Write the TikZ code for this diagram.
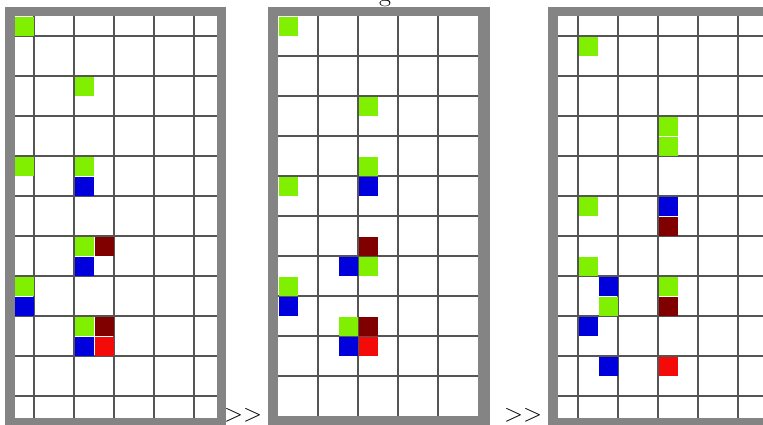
\documentclass[tikz,border=0pt]{standalone}
\begin{document}
\begin{tikzpicture}[x=1pt,y=-1pt]
\definecolor{framegray}{RGB}{132,132,132}
\definecolor{gridgray}{RGB}{85,85,85}
\definecolor{cgreen}{RGB}{128,240,0}
\definecolor{cblue}{RGB}{0,0,220}
\definecolor{cmaroon}{RGB}{128,0,0}
\definecolor{cred}{RGB}{245,10,10}
\tikzset{
  frame/.style={fill=framegray},
  inner/.style={fill=white},
  gridline/.style={draw=gridgray,line width=1.5pt},
  G/.style={fill=cgreen},
  B/.style={fill=cblue},
  M/.style={fill=cmaroon},
  R/.style={fill=cred},
  label/.style={inner sep=0pt,font=\fontsize{26}{26}\selectfont}
}
\useasboundingbox (0,0) rectangle (763,424);
% ---------- panel 1 ----------
\fill[frame] (5,7) rectangle (226,430);
\fill[inner] (15,16) rectangle (217,418);
\foreach \x in {34,74,...,194} \draw[gridline] (\x,16) -- (\x,418);
\foreach \y in {36,76,...,396} \draw[gridline] (15,\y) -- (217,\y);
\foreach \c/\r/\s in {0/0/G,3/3/G,0/7/G,3/7/G,3/8/B,3/11/G,4/11/M,3/12/B,0/13/G,0/14/B,3/15/G,4/15/M,3/16/B,4/16/R}
  \fill[\s] ({14+20*\c+0.5},{16+20*\r+0.5}) rectangle +(19,19);
% ---------- panel 2 ----------
\fill[frame] (268,7) rectangle (490,430);
\fill[inner] (278,16) rectangle (478,416);
\foreach \x in {318,358,...,438} \draw[gridline] (\x,16) -- (\x,416);
\foreach \y in {56,96,...,376} \draw[gridline] (278,\y) -- (478,\y);
\foreach \c/\r/\s in {0/0/G,4/4/G,4/7/G,4/8/B,0/8/G,4/11/M,3/12/B,4/12/G,0/13/G,0/14/B,3/15/G,4/15/M,3/16/B,4/16/R}
  \fill[\s] ({278+20*\c+0.5},{16+20*\r+0.5}) rectangle +(19,19);
% ---------- panel 3 ----------
\fill[frame] (548,7) rectangle (780,430);
\fill[inner] (558,16) rectangle (780,418);
\foreach \x in {578,618,...,738} \draw[gridline] (\x,16) -- (\x,418);
\foreach \y in {36,76,...,396} \draw[gridline] (558,\y) -- (780,\y);
\foreach \c/\r/\s in {1/1/G,5/5/G,5/6/G,1/9/G,5/9/B,5/10/M,1/12/G,2/13/B,5/13/G,2/14/G,5/14/M,1/15/B,2/17/B,5/17/R}
  \fill[\s] ({558+20*\c+0.5},{16+20*\r+0.5}) rectangle +(19,19);
% ---------- texts ----------
\node[label,anchor=base west] (sep1) at (224,421) {$>>$};
\node[label,anchor=base west] (sep2) at (504,421) {$>>$};
\node[label,anchor=base] (title) at (385,1) {g};
\end{tikzpicture}
\end{document}
